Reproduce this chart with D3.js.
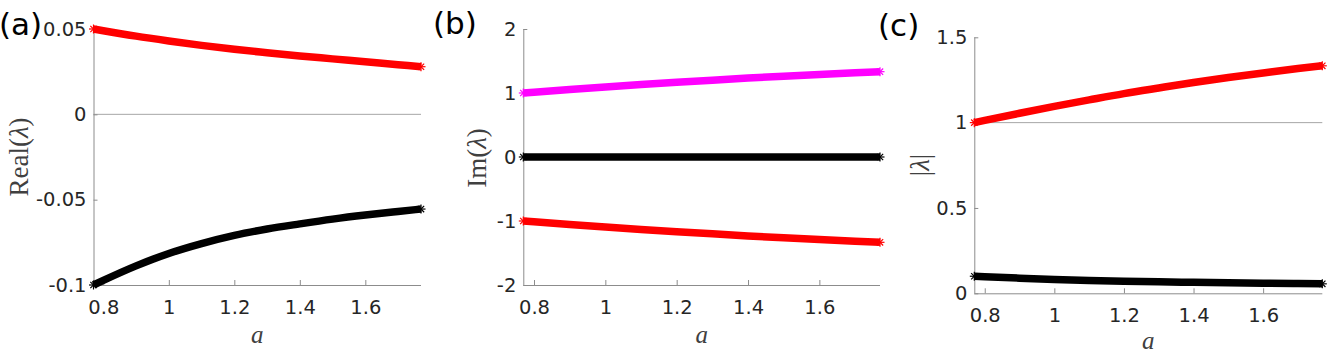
<!DOCTYPE html>
<html><head><meta charset="utf-8">
<script src="https://cdn.jsdelivr.net/npm/d3@7"></script>
<style>
html,body{margin:0;padding:0;background:#fff;}
svg{display:block;}
</style></head>
<body>
<svg id="chart" width="1329" height="354"></svg>
<script>
// ---- data ----
const aVals    = [0.77, 0.8, 0.9, 1.0, 1.1, 1.2, 1.3, 1.4, 1.5, 1.6, 1.7, 1.77];
const reRed    = [0.0500, 0.0490, 0.0458, 0.0430, 0.0404, 0.0381, 0.0361, 0.0342, 0.0325, 0.0308, 0.0291, 0.0279];
const reBlack  = [-0.1000, -0.0973, -0.0888, -0.0815, -0.0757, -0.0709, -0.0672, -0.0642, -0.0614, -0.0590, -0.0569, -0.0555];
const imMag    = [1.000, 1.013, 1.054, 1.093, 1.131, 1.167, 1.201, 1.233, 1.262, 1.290, 1.316, 1.333];
const imRed    = [-1.000, -1.013, -1.054, -1.093, -1.131, -1.167, -1.201, -1.233, -1.262, -1.290, -1.316, -1.333];
const imBlack  = [0, 0, 0, 0, 0, 0, 0, 0, 0, 0, 0, 0];
const absRed   = [1.000, 1.013, 1.055, 1.095, 1.133, 1.170, 1.203, 1.235, 1.264, 1.291, 1.317, 1.333];
const absBlack = [0.1000, 0.0973, 0.0888, 0.0815, 0.0757, 0.0709, 0.0672, 0.0642, 0.0614, 0.0590, 0.0569, 0.0555];

const xTicks   = [0.8, 1, 1.2, 1.4, 1.6];
const yTicksA  = [-0.1, -0.05, 0, 0.05];
const yTicksB  = [-2, -1, 0, 1, 2];
const yTicksC  = [0, 0.5, 1, 1.5];
const xDomain  = [0.77, 1.77];

const svg = d3.select("#chart");
const axisColor = "#8c8c8c";
const textColor = "#262626";

function panel(cfg){
  const g = svg.append("g");
  const x = d3.scaleLinear().domain(xDomain).range([cfg.left, cfg.right]);
  const y = d3.scaleLinear().domain(cfg.yDomain).range([cfg.bottom, cfg.top]);

  if (cfg.refY !== undefined){
    g.append("line")
      .attr("x1", x(xDomain[0])).attr("x2", x(xDomain[1]))
      .attr("y1", y(cfg.refY)).attr("y2", y(cfg.refY))
      .attr("stroke", "#a6a6a6").attr("stroke-width", 1);
  }

  const xa = g.append("g").attr("transform", `translate(0,${cfg.bottom})`)
    .call(d3.axisBottom(x).tickValues(xTicks).tickSize(-5).tickPadding(0)
      .tickFormat(d3.format("")));
  xa.select(".domain").attr("stroke", axisColor).attr("d", `M${cfg.left},0.5H${cfg.right}`);
  xa.selectAll(".tick line").attr("stroke", axisColor);
  xa.selectAll(".tick text").attr("fill", textColor)
    .attr("font-family", "DejaVu Sans").attr("font-size", 19.5)
    .attr("dy", null).attr("y", 29).attr("dominant-baseline", "alphabetic");

  const ya = g.append("g").attr("transform", `translate(${cfg.left},0)`)
    .call(d3.axisLeft(y).tickValues(cfg.yTicks).tickSize(-4).tickPadding(7)
      .tickFormat(d => d3.format("")(d).replace("−","-")));
  ya.select(".domain").attr("stroke", axisColor).attr("d", `M0.5,${cfg.top}V${cfg.bottom}`);
  ya.selectAll(".tick line").attr("stroke", axisColor);
  ya.selectAll(".tick text").attr("fill", textColor)
    .attr("font-family", "DejaVu Sans").attr("font-size", 19.5);

  const line = d3.line().curve(d3.curveMonotoneX).x((d,i) => x(aVals[i])).y(d => y(d));
  cfg.series.forEach(s => {
    g.append("path").datum(s.values)
      .attr("d", line).attr("fill", "none")
      .attr("stroke", s.color).attr("stroke-width", 7.5)
      .attr("stroke-linecap", "butt");
    [0, s.values.length - 1].forEach(i => {
      const cx = x(aVals[i]), cy = y(s.values[i]);
      const r = 4.5;
      const mk = g.append("g").attr("stroke", s.color).attr("stroke-width", 1.2);
      [[r,0],[0,r],[r*0.7,r*0.7],[r*0.7,-r*0.7]].forEach(([dx,dy]) => {
        mk.append("line").attr("x1", cx-dx).attr("x2", cx+dx)
          .attr("y1", cy-dy).attr("y2", cy+dy);
      });
    });
  });

  const yl = g.append("text")
    .attr("transform", `translate(${cfg.ylx},${cfg.yly}) rotate(-90)`)
    .attr("text-anchor", "middle").attr("dominant-baseline", "central")
    .attr("font-family", "Liberation Serif").attr("font-size", 27)
    .attr("fill", "#404040");
  cfg.ylabel(yl);

  g.append("text")
    .attr("x", (cfg.left + cfg.right) / 2).attr("y", cfg.xly)
    .attr("text-anchor", "middle").attr("dominant-baseline", "central")
    .attr("font-family", "Liberation Serif").attr("font-style", "italic")
    .attr("font-size", 25).attr("fill", "#404040").text("a");

  g.append("text")
    .attr("x", cfg.tagX).attr("y", cfg.tagY)
    .attr("dominant-baseline", "central")
    .attr("font-family", "DejaVu Sans").attr("font-size", 31)
    .attr("fill", "#000").text(cfg.tag);
}

panel({
  left: 93.5, right: 421, top: 29, bottom: 285,
  yDomain: [-0.1, 0.05], yTicks: yTicksA, refY: 0,
  series: [{values: reRed, color: "#ff0000"}, {values: reBlack, color: "#000000"}],
  ylx: 19, yly: 157, xly: 334,
  ylabel: t => { t.append("tspan").text("Real("); t.append("tspan").attr("font-style","italic").text("λ"); t.append("tspan").text(")"); },
  tag: "(a)", tagX: -1, tagY: 24
});

panel({
  left: 523.3, right: 880, top: 29, bottom: 285,
  yDomain: [-2, 2], yTicks: yTicksB,
  series: [{values: imMag, color: "#ff00ff"}, {values: imBlack, color: "#000000"}, {values: imRed, color: "#ff0000"}],
  ylx: 477, yly: 158, xly: 334,
  ylabel: t => { t.append("tspan").text("Im("); t.append("tspan").attr("font-style","italic").text("λ"); t.append("tspan").text(")"); },
  tag: "(b)", tagX: 433, tagY: 23
});

panel({
  left: 974.3, right: 1322.3, top: 37.3, bottom: 293.3,
  yDomain: [0, 1.5], yTicks: yTicksC, refY: 1,
  series: [{values: absRed, color: "#ff0000"}, {values: absBlack, color: "#000000"}],
  ylx: 920, yly: 165, xly: 340,
  ylabel: t => { t.append("tspan").text("|"); t.append("tspan").attr("font-style","italic").text("λ"); t.append("tspan").text("|"); },
  tag: "(c)", tagX: 878, tagY: 25
});
</script>
</body></html>
